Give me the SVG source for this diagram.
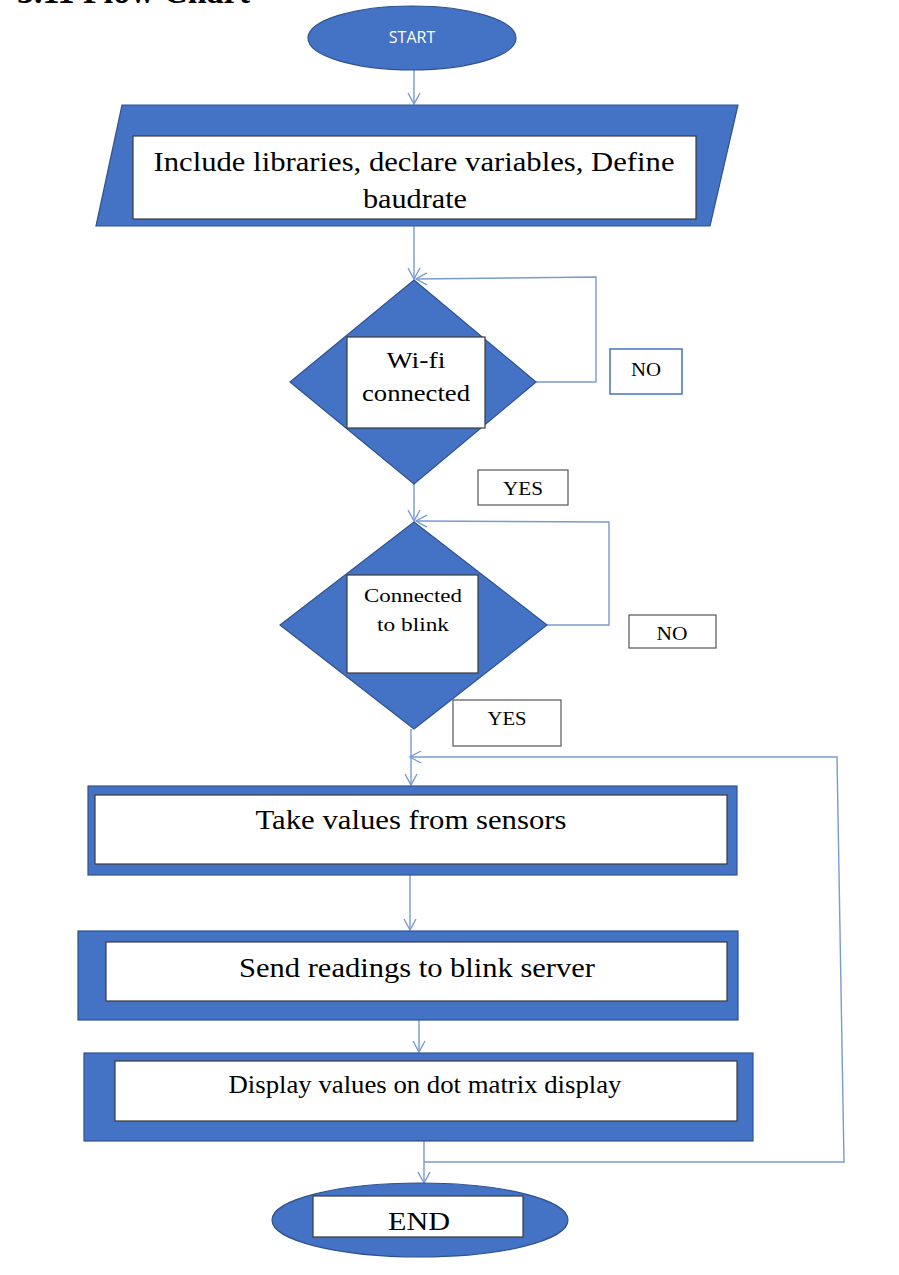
<svg xmlns="http://www.w3.org/2000/svg" width="899" height="1275" viewBox="0 0 899 1275">
<style>
.blue{fill:#4472C4;stroke:#2F528F;stroke-width:1.2}
.inner{fill:#ffffff;stroke:#3a3a3a;stroke-width:1.2}
.lbl{fill:#ffffff;stroke:#555555;stroke-width:1.2}
.lblb{fill:#ffffff;stroke:#4472C4;stroke-width:1.5}
.t{font-family:"Liberation Serif","Times New Roman",serif;fill:#000;text-anchor:middle}
.conn{fill:none;stroke:#7A9BD0;stroke-width:1.4}
</style>
<defs>
<marker id="ah" markerWidth="14" markerHeight="14" refX="12" refY="7" orient="auto" markerUnits="userSpaceOnUse">
<path d="M1,1 L12,7 L1,13" fill="none" stroke="#7A9BD0" stroke-width="1.4"/>
</marker>
</defs>
<rect width="899" height="1275" fill="#ffffff"/>
<text x="17" y="3" font-family="Liberation Serif,serif" font-weight="bold" font-size="36" textLength="233" lengthAdjust="spacingAndGlyphs">3.11 Flow Chart</text>

<g id="connectors">
<line class="conn" x1="414" y1="70" x2="414" y2="104" marker-end="url(#ah)"/>
<line class="conn" x1="414" y1="226" x2="414" y2="279" marker-end="url(#ah)"/>
<polyline class="conn" points="536,382 596,382 596,277 416,279" marker-end="url(#ah)"/>
<line class="conn" x1="414" y1="484" x2="414" y2="521" marker-end="url(#ah)"/>
<polyline class="conn" points="547,625 609,625 609,522 416,521" marker-end="url(#ah)"/>
<line class="conn" x1="411" y1="729" x2="411" y2="785" marker-end="url(#ah)"/>
<polyline class="conn" points="424,1162 844,1162 837,757 410,757" marker-end="url(#ah)"/>
<line class="conn" x1="410" y1="875" x2="410" y2="930" marker-end="url(#ah)"/>
<line class="conn" x1="419" y1="1020" x2="419" y2="1052" marker-end="url(#ah)"/>
<line class="conn" x1="424" y1="1141" x2="424" y2="1183" marker-end="url(#ah)"/>
</g>

<g id="start">
<ellipse class="blue" cx="412" cy="38" rx="104" ry="32"/>
<text x="412" y="43" font-family="Open Sans,Liberation Sans,sans-serif" font-size="16" fill="#ffffff" text-anchor="middle">START</text>
</g>

<g id="init">
<polygon class="blue" points="122,105 738,105 710,226 96,226"/>
<rect class="inner" x="133" y="136" width="563" height="83"/>
<text class="t" x="414" y="171" font-size="28" textLength="521" lengthAdjust="spacingAndGlyphs">Include libraries, declare variables, Define</text>
<text class="t" x="415" y="208" font-size="28" textLength="104" lengthAdjust="spacingAndGlyphs">baudrate</text>
</g>

<g id="wifi">
<polygon class="blue" points="414,280 536,382 414,484 290,382"/>
<rect class="inner" x="347" y="337" width="138" height="91"/>
<text class="t" x="416" y="368" font-size="24" textLength="59" lengthAdjust="spacingAndGlyphs">Wi-fi</text>
<text class="t" x="416" y="401" font-size="24" textLength="108" lengthAdjust="spacingAndGlyphs">connected</text>
</g>

<g id="no1">
<rect class="lblb" x="610" y="349" width="72" height="45"/>
<text class="t" x="646" y="376" font-size="18" textLength="30" lengthAdjust="spacingAndGlyphs">NO</text>
</g>

<g id="yes1">
<rect class="lbl" x="478" y="470" width="90" height="35"/>
<text class="t" x="523" y="495" font-size="18" textLength="40" lengthAdjust="spacingAndGlyphs">YES</text>
</g>

<g id="blink">
<polygon class="blue" points="414,522 547,625 414,729 280,625"/>
<rect class="inner" x="347" y="575" width="131" height="98"/>
<text class="t" x="413" y="602" font-size="19" textLength="98" lengthAdjust="spacingAndGlyphs">Connected</text>
<text class="t" x="413" y="631" font-size="19" textLength="72" lengthAdjust="spacingAndGlyphs">to blink</text>
</g>

<g id="no2">
<rect class="lbl" x="629" y="615" width="87" height="33"/>
<text class="t" x="672" y="640" font-size="18" textLength="31" lengthAdjust="spacingAndGlyphs">NO</text>
</g>

<g id="yes2">
<rect class="lbl" x="453" y="700" width="108" height="46"/>
<text class="t" x="507" y="725" font-size="18" textLength="39" lengthAdjust="spacingAndGlyphs">YES</text>
</g>

<g id="take">
<rect class="blue" x="88" y="786" width="649" height="89"/>
<rect class="inner" x="95" y="795" width="632" height="69"/>
<text class="t" x="411" y="829" font-size="28" textLength="311" lengthAdjust="spacingAndGlyphs">Take values from sensors</text>
</g>

<g id="send">
<rect class="blue" x="78" y="931" width="660" height="89"/>
<rect class="inner" x="106" y="942" width="621" height="59"/>
<text class="t" x="417" y="977" font-size="28" textLength="356" lengthAdjust="spacingAndGlyphs">Send readings to blink server</text>
</g>

<g id="display">
<rect class="blue" x="84" y="1053" width="669" height="88"/>
<rect class="inner" x="115" y="1061" width="622" height="60"/>
<text class="t" x="425" y="1093" font-size="25" textLength="393" lengthAdjust="spacingAndGlyphs">Display values on dot matrix display</text>
</g>

<g id="end">
<ellipse class="blue" cx="420" cy="1220" rx="148" ry="37"/>
<rect class="inner" x="313" y="1196" width="210" height="41"/>
<text class="t" x="419" y="1230" font-size="26" textLength="62" lengthAdjust="spacingAndGlyphs">END</text>
</g>
</svg>
